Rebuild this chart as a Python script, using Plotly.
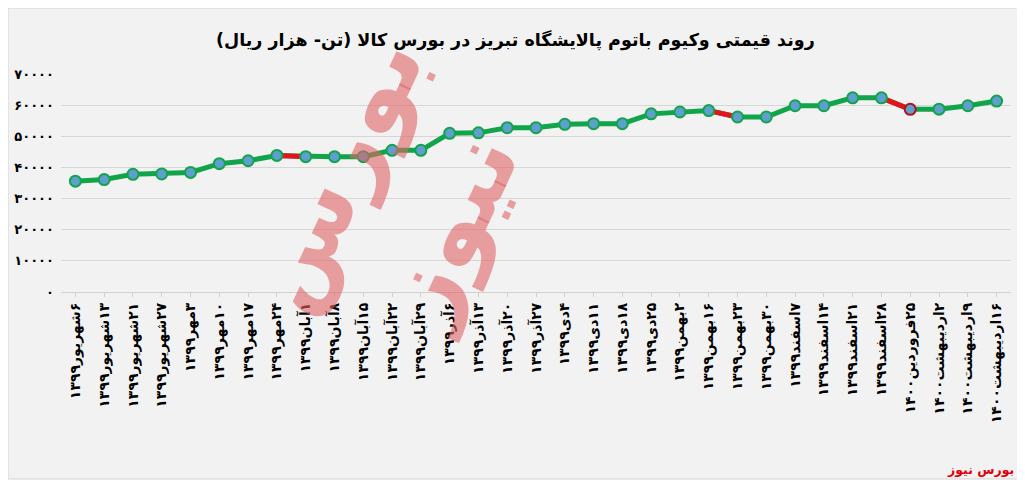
import plotly.graph_objects as go

title_text = "روند قیمتی وکیوم باتوم پالایشگاه تبریز در بورس کالا (تن- هزار ریال)"
dates = [
    "۶شهریور۱۳۹۹", "۱۳شهریور۱۳۹۹", "۲۱شهریور۱۳۹۹", "۲۷شهریور۱۳۹۹",
    "۳مهر۱۳۹۹", "۱۰مهر۱۳۹۹", "۱۷مهر۱۳۹۹", "۲۴مهر۱۳۹۹",
    "۱آبان۱۳۹۹", "۸آبان۱۳۹۹", "۱۵آبان۱۳۹۹", "۲۲آبان۱۳۹۹", "۲۹آبان۱۳۹۹",
    "۶آذر۱۳۹۹", "۱۳آذر۱۳۹۹", "۲۰آذر۱۳۹۹", "۲۷آذر۱۳۹۹",
    "۴دی۱۳۹۹", "۱۱دی۱۳۹۹", "۱۸دی۱۳۹۹", "۲۵دی۱۳۹۹",
    "۲بهمن۱۳۹۹", "۱۶بهمن۱۳۹۹", "۲۳بهمن۱۳۹۹", "۳۰بهمن۱۳۹۹",
    "۷اسفند۱۳۹۹", "۱۴اسفند۱۳۹۹", "۲۱اسفند۱۳۹۹", "۲۸اسفند۱۳۹۹",
    "۲۵فروردین۱۴۰۰", "۲اردیبهشت۱۴۰۰", "۹اردیبهشت۱۴۰۰", "۱۶اردیبهشت۱۴۰۰",
]
prices = [
    35600, 36100, 37800, 37900, 38400, 41200, 42150, 43850,
    43450, 43450, 43450, 45500, 45500, 50950, 51100, 52750,
    52750, 53850, 54050, 54050, 57200, 57800, 58250, 56200,
    56200, 59800, 59800, 62350, 62350, 58650, 58700, 59800, 61300,
]
y_tick_vals = [0, 10000, 20000, 30000, 40000, 50000, 60000, 70000]
y_tick_text = ["۰", "۱۰۰۰۰", "۲۰۰۰۰", "۳۰۰۰۰", "۴۰۰۰۰", "۵۰۰۰۰", "۶۰۰۰۰", "۷۰۰۰۰"]
source_text = "بورس نیوز"
watermark_text = "بورس<br>نیوز"

GREEN = "#12a44a"
RED = "#e3141c"
FONT = "DejaVu Sans"
RLM = "\u200f"

# page body has an 8px margin; plot area placed at page x 61..1011, y 74..292
L, T, PW, PH = 53, 66, 950, 218


def xp(px):
    return (px - 61) / PW


def yp(py):
    return (292 - py) / PH


fig = go.Figure()

fig.add_trace(go.Scatter(
    x=dates, y=prices, mode="lines",
    line=dict(color=GREEN, width=5), hoverinfo="skip", showlegend=False,
))
for i in range(len(prices) - 1):
    if prices[i + 1] < prices[i]:
        fig.add_trace(go.Scatter(
            x=dates[i:i + 2], y=prices[i:i + 2], mode="lines",
            line=dict(color=RED, width=5), hoverinfo="skip", showlegend=False,
        ))

outline = [GREEN] * len(prices)
outline[29] = "#b0141c"
fig.add_trace(go.Scatter(
    x=dates, y=prices, mode="markers",
    marker=dict(size=11, color="#5f9fcf", line=dict(color=outline, width=2)),
    showlegend=False,
))

fig.update_layout(
    width=1025, height=485,
    margin=dict(l=L, r=1025 - L - PW, t=T, b=485 - T - PH),
    paper_bgcolor="white",
    plot_bgcolor="#f2f2f2",
    font=dict(family=FONT, color="black"),
    shapes=[dict(type="rect", xref="paper", yref="paper",
                 x0=xp(8), x1=xp(1020), y0=yp(479), y1=yp(8),
                 fillcolor="#f2f2f2", line=dict(color="#d4d4d4", width=1), layer="below")],
    annotations=[
        dict(text=title_text, xref="paper", yref="paper", x=xp(515), y=yp(40),
             xanchor="center", yanchor="middle", showarrow=False,
             font=dict(size=17.5, family=FONT, color="black", weight="bold")),
        dict(text=source_text, xref="paper", yref="paper", x=xp(1016), y=yp(469),
             xanchor="right", yanchor="middle", showarrow=False,
             font=dict(size=12.5, family=FONT, color="#e0000a", weight="bold")),
        dict(text=watermark_text, xref="paper", yref="paper", x=xp(392), y=yp(200),
             xanchor="center", yanchor="middle", showarrow=False, textangle=-65,
             font=dict(size=98, family=FONT, color="rgba(224,100,100,0.6)", weight="bold")),
    ],
    xaxis=dict(
        type="category", range=[-0.5, len(dates) - 0.5],
        tickmode="array", tickvals=dates, ticktext=[RLM + d for d in dates],
        tickangle=-90, tickfont=dict(size=14, family=FONT, color="black", weight="bold"),
        showgrid=False, showline=True, linecolor="#d0d0d0",
        ticks="outside", ticklen=4, tickcolor="#d0d0d0",
        automargin=False,
    ),
    yaxis=dict(
        range=[0, 70000], tickvals=y_tick_vals, ticktext=y_tick_text,
        tickfont=dict(size=13, family=FONT, color="black", weight="bold"),
        gridcolor="#d6d6d6", gridwidth=1, zeroline=False,
        ticks="", ticklabelstandoff=6, automargin=False,
    ),
)

fig.write_html("out.html")
